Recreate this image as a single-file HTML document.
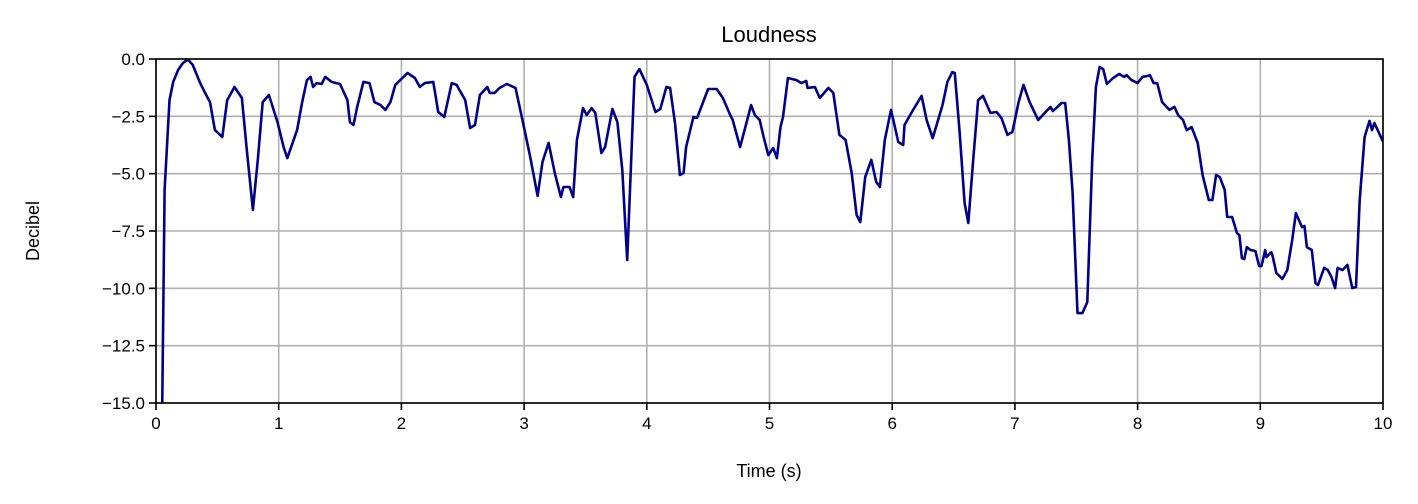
<!DOCTYPE html>
<html><head><meta charset="utf-8"><style>
html,body{margin:0;padding:0;background:#fff;width:1418px;height:504px;overflow:hidden;}
svg{display:block;position:absolute;left:0;top:0;font-family:"Liberation Sans","DejaVu Sans",sans-serif;}
</style></head><body>
<svg id="chart" width="1418" height="504" xmlns="http://www.w3.org/2000/svg">
<rect width="1418" height="504" fill="#fff"/>
<defs><clipPath id="pc"><rect x="156" y="59" width="1227" height="344"/></clipPath></defs>
<g id="grid"></g>
<g id="series" clip-path="url(#pc)"></g>
<rect x="156" y="59" width="1227" height="344" fill="none" stroke="#000" stroke-width="1.6"/>
<g id="ticks"></g>
<text x="769" y="42" text-anchor="middle" font-size="22">Loudness</text>
<text x="769" y="477" text-anchor="middle" font-size="18">Time (s)</text>
<text transform="translate(39,231) rotate(-90)" text-anchor="middle" font-size="18">Decibel</text>
</svg>
<script>
const times=[0.0,0.07,0.11,0.14,0.18,0.22,0.26,0.30,0.36,0.40,0.44,0.48,0.54,0.58,0.64,0.70,0.74,0.79,0.83,0.87,0.92,0.99,1.04,1.07,1.15,1.19,1.23,1.26,1.28,1.31,1.35,1.38,1.43,1.50,1.56,1.58,1.61,1.64,1.69,1.74,1.78,1.83,1.87,1.91,1.95,2.05,2.11,2.15,2.19,2.26,2.30,2.35,2.41,2.45,2.52,2.56,2.60,2.64,2.70,2.72,2.76,2.80,2.86,2.93,2.99,3.05,3.11,3.15,3.20,3.25,3.30,3.32,3.36,3.37,3.40,3.43,3.48,3.51,3.55,3.58,3.63,3.66,3.72,3.76,3.80,3.84,3.90,3.94,4.00,4.07,4.11,4.16,4.19,4.23,4.27,4.30,4.32,4.38,4.41,4.50,4.57,4.62,4.68,4.70,4.76,4.85,4.88,4.92,4.95,4.99,5.03,5.06,5.09,5.11,5.15,5.22,5.26,5.30,5.31,5.37,5.41,5.48,5.52,5.57,5.62,5.67,5.71,5.74,5.78,5.83,5.87,5.90,5.94,5.99,6.05,6.09,6.10,6.17,6.24,6.28,6.33,6.41,6.45,6.49,6.51,6.55,6.59,6.62,6.66,6.70,6.74,6.80,6.85,6.89,6.94,6.98,7.03,7.07,7.12,7.19,7.25,7.29,7.31,7.38,7.41,7.44,7.47,7.51,7.55,7.59,7.63,7.66,7.69,7.72,7.75,7.80,7.85,7.89,7.91,7.95,8.00,8.04,8.08,8.10,8.13,8.16,8.20,8.26,8.30,8.33,8.37,8.40,8.44,8.49,8.53,8.58,8.61,8.64,8.67,8.71,8.73,8.77,8.81,8.83,8.85,8.87,8.89,8.92,8.96,8.99,9.01,9.04,9.05,9.09,9.10,9.13,9.18,9.22,9.26,9.29,9.34,9.36,9.38,9.42,9.45,9.47,9.52,9.55,9.58,9.61,9.63,9.67,9.71,9.75,9.78,9.81,9.85,9.89,9.91,9.93,10.0];
const decibels=[-40,-5.71,-1.79,-1.00,-0.48,-0.17,-0.02,-0.26,-1.05,-1.48,-1.88,-3.10,-3.40,-1.79,-1.22,-1.70,-3.97,-6.58,-4.40,-1.88,-1.57,-2.75,-3.84,-4.32,-3.10,-1.92,-0.92,-0.78,-1.22,-1.05,-1.09,-0.78,-1.00,-1.09,-1.79,-2.75,-2.88,-2.09,-1.00,-1.05,-1.88,-2.01,-2.22,-1.88,-1.13,-0.61,-0.83,-1.22,-1.05,-1.00,-2.31,-2.53,-1.05,-1.13,-1.79,-3.01,-2.88,-1.57,-1.22,-1.48,-1.48,-1.26,-1.09,-1.26,-2.75,-4.27,-5.97,-4.49,-3.66,-4.97,-6.02,-5.58,-5.58,-5.58,-6.02,-3.53,-2.14,-2.44,-2.14,-2.35,-4.10,-3.84,-2.18,-2.75,-4.84,-8.77,-0.78,-0.44,-1.13,-2.31,-2.18,-1.22,-1.26,-2.79,-5.06,-4.97,-3.84,-2.53,-2.57,-1.31,-1.31,-1.70,-2.44,-2.66,-3.84,-2.01,-2.44,-2.66,-3.36,-4.19,-3.88,-4.32,-2.97,-2.53,-0.83,-0.92,-1.05,-0.96,-1.26,-1.22,-1.70,-1.26,-1.48,-3.31,-3.53,-4.97,-6.80,-7.11,-5.15,-4.40,-5.36,-5.58,-3.53,-2.22,-3.62,-3.75,-2.88,-2.22,-1.61,-2.66,-3.45,-2.01,-1.00,-0.57,-0.61,-3.23,-6.28,-7.15,-4.40,-1.79,-1.61,-2.35,-2.31,-2.57,-3.31,-3.18,-1.88,-1.13,-1.88,-2.66,-2.31,-2.09,-2.27,-1.92,-1.92,-3.53,-5.84,-11.08,-11.08,-10.60,-4.40,-1.22,-0.35,-0.44,-1.09,-0.83,-0.65,-0.78,-0.70,-0.92,-1.05,-0.78,-0.74,-0.70,-1.05,-1.05,-1.88,-2.22,-2.09,-2.44,-2.66,-3.10,-2.97,-3.66,-5.06,-6.15,-6.15,-5.06,-5.15,-5.71,-6.89,-6.89,-7.59,-7.68,-8.68,-8.72,-8.20,-8.33,-8.37,-9.03,-9.03,-8.33,-8.64,-8.42,-8.59,-9.33,-9.59,-9.20,-7.89,-6.72,-7.33,-7.28,-8.20,-8.33,-9.77,-9.86,-9.11,-9.20,-9.51,-9.99,-9.11,-9.20,-8.98,-9.99,-9.94,-6.15,-3.40,-2.70,-3.10,-2.79,-3.60];
const xTicks=[0,1,2,3,4,5,6,7,8,9,10];
const yTicks=[0,-2.5,-5,-7.5,-10,-12.5,-15];
const yTickLabels=["0.0","\u22122.5","\u22125.0","\u22127.5","\u221210.0","\u221212.5","\u221215.0"];
const X0=156,X1=1383,Y0=59,Y1=403;
const xs=t=>X0+(t-0)/(10-0)*(X1-X0);
const ys=v=>Y0+(0-v)/(0-(-15))*(Y1-Y0);
const NS="http://www.w3.org/2000/svg";
const grid=document.getElementById('grid'),ticks=document.getElementById('ticks'),series=document.getElementById('series');
function mk(tag,attrs,parent){const e=document.createElementNS(NS,tag);for(const k in attrs)e.setAttribute(k,attrs[k]);parent.appendChild(e);return e;}
xTicks.forEach(t=>{
  const x=xs(t);
  const g=mk('line',{x1:x,x2:x,y1:Y0,y2:Y1,stroke:'#b0b0b0','stroke-width':1.6},grid);
  
  
  const tk=mk('line',{x1:x,x2:x,y1:Y1,y2:Y1+7,stroke:'#000','stroke-width':1.6},ticks);
  
  
  const l=mk('text',{x:x,y:Y1+26,'text-anchor':'middle','font-size':17},ticks);
  l.textContent=String(t);
  
  
});
yTicks.forEach((v,i)=>{
  const y=ys(v);
  const g=mk('line',{x1:X0,x2:X1,y1:y,y2:y,stroke:'#b0b0b0','stroke-width':1.6},grid);
  
  
  const tk=mk('line',{x1:X0-7,x2:X0,y1:y,y2:y,stroke:'#000','stroke-width':1.6},ticks);
  
  
  const l=mk('text',{x:X0-11,y:y+6,'text-anchor':'end','font-size':17},ticks);
  l.textContent=yTickLabels[i];
  
  
});
const d=times.map((t,i)=>(i?'L':'M')+xs(t).toFixed(1)+','+ys(decibels[i]).toFixed(1)).join('');
const p=mk('path',{d:d,fill:'none',stroke:'#00008b','stroke-width':2.6,'stroke-linejoin':'round'},series);


</script>
</body></html>
